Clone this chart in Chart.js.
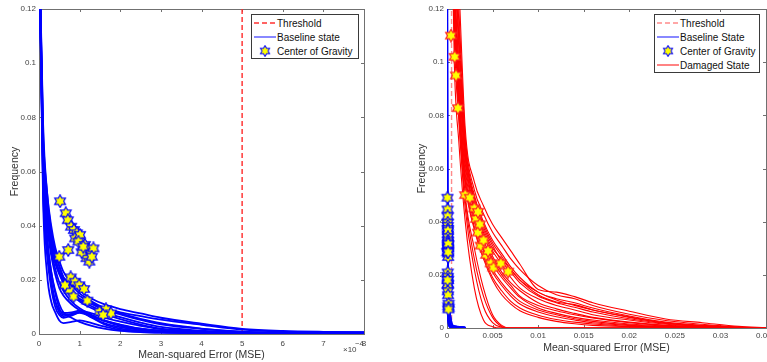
<!DOCTYPE html>
<html>
<head>
<meta charset="utf-8">
<script src="https://cdn.jsdelivr.net/npm/chart.js@4.4.1/dist/chart.umd.min.js"></script>
<style>
    html, body { margin: 0; padding: 0; background: #fff; overflow: hidden; width: 767px; height: 362px; }
    .box { position: absolute; top: 0; }
    .legend {
        position: absolute; background: #fff; border: 1px solid #3a3a3a;
        font-family: "Liberation Sans", Arial, sans-serif; font-size: 10px; color: #111;
        padding-top: 1px; box-sizing: content-box;
    }
    .legend .row { display: flex; align-items: center; height: 14px; white-space: nowrap; }
    .legend .smp { width: 23px; height: 14px; margin-left: 1px; margin-right: 1px; display: flex; align-items: center; justify-content: center; }
    .exp { position: absolute; font-family: "Liberation Sans", Arial, sans-serif; color: #444; white-space: nowrap; line-height: 1; }
</style>
</head>
<body>
<div class="box" style="left:0;width:385px;height:362px"><canvas id="left-chart" width="385" height="362"></canvas></div>
<div class="box" style="left:388px;width:398px;height:362px"><canvas id="right-chart" width="398" height="362"></canvas></div>
<div class="legend" id="legend-left" style="left:251px;top:14px;width:106px"></div>
<div class="legend" id="legend-right" style="left:654px;top:14px;width:104px"></div>
<div class="exp" style="left:343px;top:346px;font-size:8px">&times;10</div>
<div class="exp" style="left:355px;top:340px;font-size:7.5px">&minus;4</div>
<script>
document.addEventListener('DOMContentLoaded', function () {
    // --- data -------------------------------------------------------------
    const E4 = 1e-4;
    const threshold = 5e-4;

    // baseline histograms, MSE grid in units of 1e-4
    const baseMse = [0, 0.1, 0.2, 0.3, 0.4, 0.5, 0.6, 0.8, 1.0, 1.3, 1.6, 2.0, 2.5, 3, 4, 5, 6, 7, 8, 20];
    const baseFreq = [
        [0.15, 0.075, 0.052, 0.04, 0.032, 0.027, 0.023, 0.019, 0.016, 0.013, 0.011, 0.0092, 0.0076, 0.006, 0.0038, 0.0019, 0.0011, 0.0008, 0.0007, 0.0001],
        [0.15, 0.072, 0.049, 0.037, 0.03, 0.025, 0.021, 0.018, 0.015, 0.012, 0.0097, 0.008, 0.0066, 0.0053, 0.0034, 0.0016, 0.0009, 0.0007, 0.0006, 0.0001],
        [0.15, 0.078, 0.052, 0.038, 0.03, 0.025, 0.021, 0.016, 0.013, 0.011, 0.009, 0.0072, 0.0052, 0.0036, 0.0019, 0.0009, 0.0006, 0.0005, 0.0005, 0.0001],
        [0.15, 0.066, 0.044, 0.033, 0.027, 0.023, 0.02, 0.016, 0.014, 0.0115, 0.0095, 0.0076, 0.0056, 0.004, 0.002, 0.0008, 0.0005, 0.0005, 0.0005, 0.0001],
        [0.15, 0.062, 0.042, 0.032, 0.026, 0.022, 0.019, 0.015, 0.0125, 0.0102, 0.0082, 0.0062, 0.0042, 0.0026, 0.0012, 0.0006, 0.0004, 0.0004, 0.0004, 0],
        [0.15, 0.07, 0.047, 0.035, 0.028, 0.023, 0.019, 0.015, 0.012, 0.0095, 0.0075, 0.0055, 0.0035, 0.002, 0.001, 0.0005, 0.0003, 0.0003, 0.0003, 0],
        [0.15, 0.058, 0.033, 0.02, 0.012, 0.008, 0.0066, 0.0074, 0.0082, 0.006, 0.0036, 0.002, 0.0012, 0.0008, 0.0005, 0.0003, 0.0002, 0.0002, 0.0002, 0],
        [0.15, 0.054, 0.029, 0.017, 0.01, 0.007, 0.006, 0.0068, 0.0078, 0.0062, 0.004, 0.0025, 0.0015, 0.001, 0.0006, 0.0004, 0.0003, 0.0003, 0.0003, 0],
        [0.15, 0.062, 0.036, 0.023, 0.015, 0.0095, 0.0072, 0.0072, 0.008, 0.0068, 0.005, 0.0035, 0.002, 0.0012, 0.0006, 0.0004, 0.0003, 0.0003, 0.0003, 0],
        [0.15, 0.05, 0.022, 0.012, 0.008, 0.005, 0.004, 0.0045, 0.005, 0.004, 0.0028, 0.0015, 0.0008, 0.0005, 0.0003, 0.0002, 0.0002, 0.0002, 0.0002, 0],
        [0.15, 0.056, 0.031, 0.019, 0.012, 0.0088, 0.0078, 0.008, 0.0086, 0.0076, 0.006, 0.0046, 0.003, 0.0018, 0.0008, 0.0004, 0.0003, 0.0003, 0.0003, 0],
        [0.15, 0.06, 0.035, 0.023, 0.016, 0.011, 0.008, 0.006, 0.0045, 0.003, 0.002, 0.0012, 0.0007, 0.0005, 0.0003, 0.0002, 0.0002, 0.0002, 0.0002, 0],
        [0.15, 0.066, 0.043, 0.031, 0.024, 0.019, 0.016, 0.012, 0.0095, 0.007, 0.005, 0.0033, 0.002, 0.0012, 0.0006, 0.0003, 0.0002, 0.0002, 0.0002, 0],
        [0.15, 0.062, 0.04, 0.029, 0.022, 0.017, 0.0142, 0.011, 0.0088, 0.0066, 0.0048, 0.003, 0.0018, 0.001, 0.0005, 0.0003, 0.0002, 0.0002, 0.0002, 0]
    ];

    // baseline centres of gravity (MSE in 1e-4)
    const baseCogMse = [0.52, 0.66, 0.71, 0.79, 0.86, 0.93, 0.89, 1.01, 0.97, 1.13, 1.21, 1.26, 1.17, 1.24, 0.72, 1.05, 0.5, 1.09, 1.34, 1.3,
                        0.78, 0.89, 0.99, 1.11, 0.75, 0.85, 1.19, 1.49, 1.65, 1.77, 1.58, 0.64];
    const baseCogFreq = [0.049, 0.0446, 0.042, 0.0396, 0.0384, 0.0372, 0.0353, 0.0366, 0.0341, 0.0329, 0.0313, 0.0298, 0.028, 0.0267, 0.031, 0.0302, 0.0285, 0.0322, 0.0316, 0.0285,
                         0.0209, 0.0193, 0.018, 0.0166, 0.0162, 0.0138, 0.0123, 0.0082, 0.0091, 0.0076, 0.007, 0.018];

    // damaged-state histograms
    const dmgMse = [0.0003, 0.0008, 0.0013, 0.002, 0.003, 0.004, 0.005, 0.006, 0.007, 0.008, 0.01, 0.012, 0.014, 0.016, 0.02, 0.024, 0.028, 0.032, 0.035];
    const dmgFreq = [
        [0.2, 0.17, 0.13, 0.075, 0.055, 0.046, 0.039, 0.034, 0.029, 0.024, 0.0145, 0.0135, 0.0118, 0.0095, 0.0063, 0.0034, 0.002, 0.0006, 0.0001],
        [0.2, 0.16, 0.12, 0.072, 0.052, 0.043, 0.036, 0.031, 0.026, 0.022, 0.016, 0.0125, 0.011, 0.0085, 0.0052, 0.0028, 0.0014, 0.0004, 0.0001],
        [0.2, 0.15, 0.115, 0.07, 0.05, 0.04, 0.033, 0.028, 0.023, 0.019, 0.0135, 0.011, 0.0095, 0.0075, 0.0045, 0.0022, 0.001, 0.0003, 0],
        [0.2, 0.14, 0.11, 0.068, 0.048, 0.038, 0.031, 0.025, 0.021, 0.017, 0.012, 0.0095, 0.0078, 0.006, 0.0035, 0.0017, 0.0008, 0.0002, 0],
        [0.2, 0.13, 0.1, 0.066, 0.047, 0.036, 0.029, 0.024, 0.019, 0.015, 0.011, 0.0085, 0.0068, 0.005, 0.003, 0.0014, 0.0006, 0.0002, 0],
        [0.2, 0.135, 0.098, 0.064, 0.045, 0.035, 0.027, 0.021, 0.017, 0.014, 0.0095, 0.0072, 0.0055, 0.004, 0.0022, 0.001, 0.0005, 0.0001, 0],
        [0.2, 0.125, 0.095, 0.062, 0.044, 0.033, 0.026, 0.02, 0.016, 0.012, 0.0085, 0.0065, 0.005, 0.0038, 0.002, 0.0009, 0.0004, 0.0001, 0],
        [0.2, 0.13, 0.092, 0.06, 0.042, 0.031, 0.024, 0.019, 0.015, 0.0115, 0.0075, 0.0055, 0.004, 0.003, 0.0015, 0.0007, 0.0003, 0.0001, 0],
        [0.2, 0.12, 0.09, 0.058, 0.041, 0.03, 0.022, 0.017, 0.013, 0.01, 0.0068, 0.005, 0.0035, 0.0025, 0.0012, 0.0005, 0.0002, 0, 0],
        [0.2, 0.125, 0.088, 0.056, 0.04, 0.029, 0.021, 0.016, 0.012, 0.009, 0.006, 0.0042, 0.003, 0.002, 0.001, 0.0004, 0.0002, 0, 0],
        [0.2, 0.12, 0.085, 0.055, 0.038, 0.027, 0.019, 0.014, 0.01, 0.0075, 0.0048, 0.0032, 0.0022, 0.0015, 0.0007, 0.0003, 0.0001, 0, 0],
        [0.2, 0.118, 0.083, 0.054, 0.037, 0.026, 0.018, 0.0125, 0.009, 0.0065, 0.004, 0.0025, 0.0016, 0.001, 0.0005, 0.0002, 0, 0, 0],
        [0.2, 0.14, 0.105, 0.065, 0.046, 0.037, 0.03, 0.026, 0.022, 0.018, 0.0125, 0.0098, 0.0088, 0.0068, 0.0042, 0.002, 0.0009, 0.0002, 0],
        [0.2, 0.145, 0.108, 0.068, 0.049, 0.039, 0.032, 0.027, 0.022, 0.018, 0.0135, 0.0105, 0.0085, 0.0068, 0.004, 0.0018, 0.0007, 0.0002, 0],
        [0.2, 0.12, 0.085, 0.05, 0.03, 0.015, 0.005, 0.001, 0, 0, 0, 0, 0, 0, 0, 0, 0, 0, 0],
        [0.2, 0.11, 0.078, 0.045, 0.022, 0.008, 0.002, 0.0003, 0, 0, 0, 0, 0, 0, 0, 0, 0, 0, 0],
        [0.2, 0.115, 0.08, 0.048, 0.026, 0.012, 0.004, 0.0006, 0, 0, 0, 0, 0, 0, 0, 0, 0, 0, 0],
        [0.2, 0.1, 0.07, 0.04, 0.015, 0.003, 0.0005, 0, 0, 0, 0, 0, 0, 0, 0, 0, 0, 0, 0]
    ];

    const dmgCogMse = [0.00044, 0.00084, 0.00099, 0.0012, 0.002, 0.0025, 0.003, 0.0032, 0.0034, 0.0034, 0.0036, 0.0037, 0.004, 0.0043, 0.0045, 0.0048, 0.0051, 0.0059, 0.0067];
    const dmgCogFreq = [0.11, 0.102, 0.095, 0.0827, 0.05, 0.049, 0.045, 0.041, 0.0437, 0.0359, 0.039, 0.031, 0.033, 0.0275, 0.029, 0.0243, 0.0227, 0.0243, 0.0212];

    const freqTicks = [0, 0.02, 0.04, 0.06, 0.08, 0.1, 0.12];
    const leftMseTicks = [0, 1, 2, 3, 4, 5, 6, 7, 8];
    const rightMseTicks = [0, 0.005, 0.01, 0.015, 0.02, 0.025, 0.03, 0.035];

    // --- helpers ----------------------------------------------------------
    const FONT = '"Liberation Sans", Arial, sans-serif';
    Chart.defaults.font.family = FONT;
    Chart.defaults.animation = false;

    function makeStar(edge) {
        const c = document.createElement('canvas');
        c.width = 14; c.height = 14;
        const ctx = c.getContext('2d');
        const R = 6.2, r = R / Math.sqrt(3);
        ctx.beginPath();
        for (let k = 0; k < 12; k++) {
            const a = -Math.PI / 2 + k * Math.PI / 6;
            const rad = k % 2 === 0 ? R : r;
            const px = 7 + rad * Math.cos(a), py = 7 + rad * Math.sin(a);
            if (k === 0) ctx.moveTo(px, py); else ctx.lineTo(px, py);
        }
        ctx.closePath();
        ctx.fillStyle = '#ffff00';
        ctx.fill();
        ctx.strokeStyle = edge;
        ctx.lineWidth = 1.2;
        ctx.stroke();
        return c;
    }
    const blueStar = makeStar('#0000ff');
    const redStar = makeStar('#ff2020');

    const toPoints = (xs, ys, k) => xs.map((x, i) => ({ x: x * k, y: ys[i] }));

    const curveSets = (rows, xs, k, color, width, order) => rows.map(ys => ({
        data: toPoints(xs, ys, k),
        borderColor: color,
        borderWidth: width,
        pointRadius: 0,
        cubicInterpolationMode: 'monotone',
        order: order
    }));

    const thresholdSet = (color, width, order) => ({
        data: [{ x: threshold, y: 0 }, { x: threshold, y: 0.12 }],
        borderColor: color,
        borderWidth: width,
        borderDash: [5, 3],
        pointRadius: 0,
        order: order
    });

    const starSet = (xs, ys, k, img, order) => ({
        data: toPoints(xs, ys, k),
        showLine: false,
        pointStyle: img,
        pointRadius: 6,
        clip: false,
        order: order
    });

    // MATLAB-like box with inward tick marks
    const boxPlugin = {
        id: 'matlabBox',
        beforeDatasetsDraw(chart) {
            const { ctx, chartArea: a, scales: { x, y } } = chart;
            ctx.save();
            ctx.strokeStyle = '#707070';
            ctx.lineWidth = 1;
            ctx.strokeRect(a.left + 0.5, a.top + 0.5, a.right - a.left, a.bottom - a.top);
            ctx.beginPath();
            x.ticks.forEach(t => {
                const px = Math.round(x.getPixelForValue(t.value)) + 0.5;
                ctx.moveTo(px, a.bottom); ctx.lineTo(px, a.bottom - 3);
                ctx.moveTo(px, a.top); ctx.lineTo(px, a.top + 3);
            });
            y.ticks.forEach(t => {
                const py = Math.round(y.getPixelForValue(t.value)) + 0.5;
                ctx.moveTo(a.left, py); ctx.lineTo(a.left + 3, py);
                ctx.moveTo(a.right, py); ctx.lineTo(a.right - 3, py);
            });
            ctx.stroke();
            ctx.restore();
        }
    };

    const tickFont = { size: 8, family: FONT };
    const titleFont = { size: 10.5, family: FONT };

    function makeOptions(cfg) {
        return {
            responsive: false,
            devicePixelRatio: 1,
            layout: { padding: { top: 9, right: cfg.padRight, left: 0, bottom: 0 } },
            plugins: { legend: { display: false }, tooltip: { enabled: false } },
            scales: {
                x: {
                    type: 'linear',
                    min: 0,
                    max: cfg.xMax,
                    afterFit: s => { s.height = cfg.xHeight; },
                    afterBuildTicks: s => { s.ticks = cfg.xTicks.map(v => ({ value: v })); },
                    grid: { display: false, drawTicks: false },
                    border: { display: false },
                    ticks: {
                        autoSkip: false, maxRotation: 0, padding: cfg.xTickPad,
                        color: '#444', font: tickFont, callback: cfg.xLabel
                    },
                    title: {
                        display: true, text: 'Mean-squared Error (MSE)', color: '#333',
                        font: titleFont, padding: { top: 0, bottom: cfg.xTitlePad }
                    }
                },
                y: {
                    type: 'linear',
                    min: 0,
                    max: 0.12,
                    afterFit: s => { s.width = cfg.yWidth; },
                    afterBuildTicks: s => { s.ticks = freqTicks.map(v => ({ value: v })); },
                    grid: { display: false, drawTicks: false },
                    border: { display: false },
                    ticks: {
                        autoSkip: false, padding: 3, color: '#444', font: tickFont,
                        callback: v => (v === 0 ? '0' : String(+v.toFixed(2)))
                    },
                    title: {
                        display: true, text: 'Frequency', color: '#333',
                        font: titleFont, padding: { top: cfg.yTitlePad, bottom: 0 }
                    }
                }
            }
        };
    }

    // --- left chart: baseline ---------------------------------------------
    const leftChart = new Chart(document.getElementById('left-chart'), {
        type: 'line',
        data: {
            datasets: [
                starSet(baseCogMse, baseCogFreq, E4, blueStar, 0),
                ...curveSets(baseFreq, baseMse, E4, '#0000ff', 1.8, 2),
                thresholdSet('#ff2a2a', 1.4, 3)
            ]
        },
        options: makeOptions({
            padRight: 21, xMax: 8e-4, xHeight: 28, yWidth: 39,
            xTicks: leftMseTicks.map(v => v * E4), xTickPad: 5, xTitlePad: 1, yTitlePad: 9,
            xLabel: v => String(Math.round(v / E4))
        }),
        plugins: [boxPlugin]
    });

    // --- right chart: baseline vs damaged ---------------------------------
    const rightChart = new Chart(document.getElementById('right-chart'), {
        type: 'line',
        data: {
            datasets: [
                starSet(dmgCogMse, dmgCogFreq, 1, redStar, 0),
                ...curveSets(dmgFreq, dmgMse, 1, '#ff0000', 1.1, 1),
                starSet(baseCogMse, baseCogFreq, E4, blueStar, 2),
                ...curveSets(baseFreq, baseMse, E4, '#0000ff', 2, 3),
                thresholdSet('#ff8a8a', 1.4, 4)
            ]
        },
        options: makeOptions({
            padRight: 20, xMax: 0.035, xHeight: 34, yWidth: 59,
            xTicks: rightMseTicks, xTickPad: 3, xTitlePad: 8, yTitlePad: 28,
            xLabel: v => (v === 0 ? '0' : String(+v.toFixed(3)))
        }),
        plugins: [boxPlugin]
    });

    // --- legends drawn inside the axes -----------------------------------
    const starUrl = blueStar.toDataURL();
    const samples = {
        threshold: c => '<svg width="22" height="4"><line x1="0" y1="2" x2="22" y2="2" stroke="' + c + '" stroke-width="1.3" stroke-dasharray="5,3"/></svg>',
        line: c => '<svg width="22" height="4"><line x1="0" y1="2" x2="22" y2="2" stroke="' + c + '" stroke-width="1.2"/></svg>',
        star: () => '<img src="' + starUrl + '" width="12" height="12">'
    };

    function buildLegend(el, entries) {
        el.innerHTML = entries.map(e =>
            '<div class="row"><span class="smp">' + e.sample + '</span><span>' + e.label + '</span></div>'
        ).join('');
    }

    buildLegend(document.getElementById('legend-left'), [
        { label: 'Threshold', sample: samples.threshold('#ff3030') },
        { label: 'Baseline state', sample: samples.line('#3a3aff') },
        { label: 'Center of Gravity', sample: samples.star() }
    ]);
    buildLegend(document.getElementById('legend-right'), [
        { label: 'Threshold', sample: samples.threshold('#ff8a8a') },
        { label: 'Baseline State', sample: samples.line('#3a3aff') },
        { label: 'Center of Gravity', sample: samples.star() },
        { label: 'Damaged State', sample: samples.line('#ff3030') }
    ]);
});
</script>
</body>
</html>
